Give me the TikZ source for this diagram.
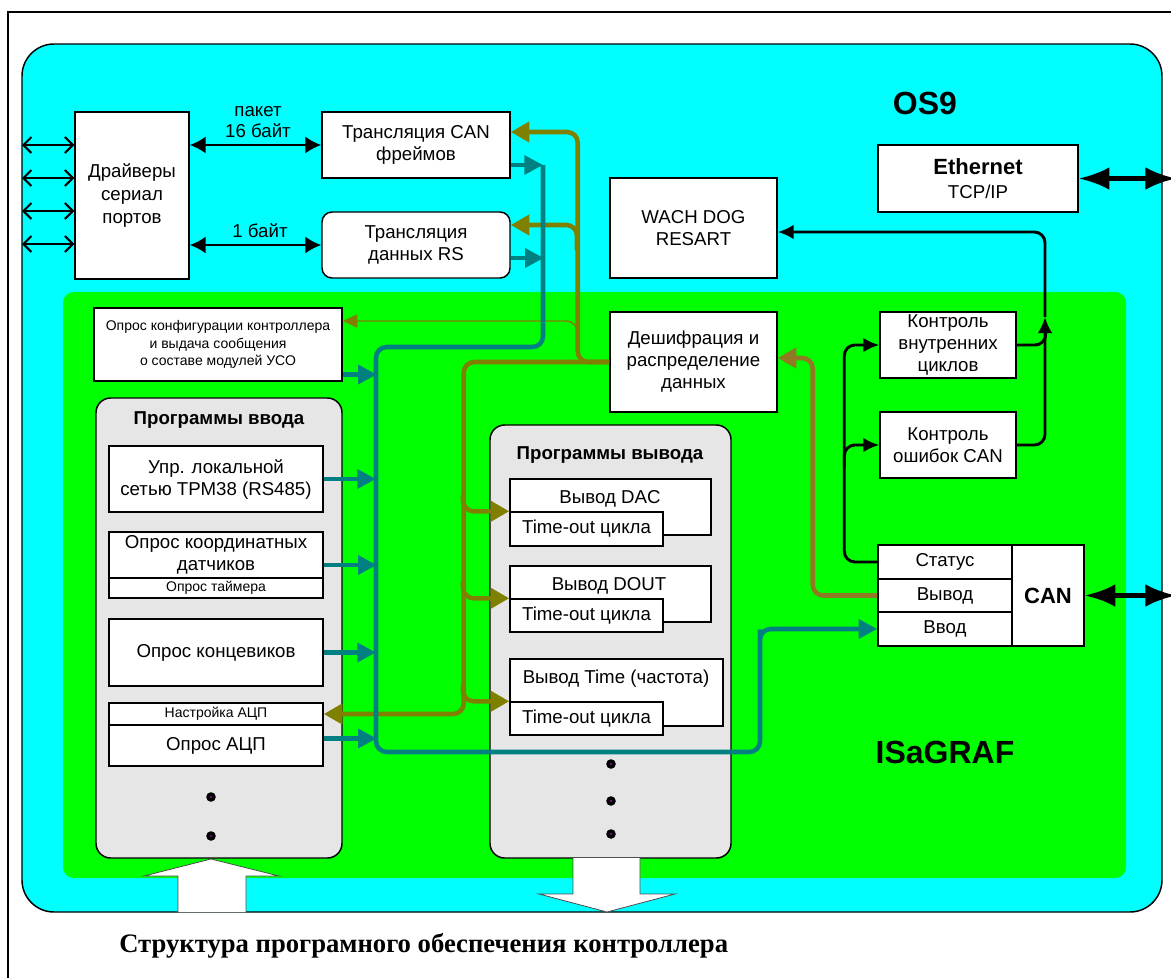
\documentclass[tikz,border=0pt]{standalone}
\usepackage{fontspec}
\setmainfont{Liberation Sans}
\newfontfamily\capfont{Liberation Serif}
\usetikzlibrary{arrows.meta,calc}
\definecolor{cyanc}{RGB}{0,255,255}
\definecolor{greenc}{RGB}{0,255,0}
\definecolor{grayc}{RGB}{230,230,230}
\definecolor{tealc}{RGB}{0,128,128}
\definecolor{olivec}{RGB}{128,128,0}
\definecolor{brownc}{RGB}{145,120,35}
\definecolor{dotc}{RGB}{255,0,255}
\tikzset{
  rb/.style args={#1/#2/#3/#4}{at={({(#1+#3)/2},{(#2+#4)/2})}, anchor=center,
    minimum width={(#3-#1)*0.75pt}, minimum height={(#4-#2)*0.75pt}},
  bx/.style={draw, fill=white, line width=1.1pt, inner sep=0pt, align=center,
    font=\fontsize{14}{16.5}\selectfont},
  sbx/.style={bx, font=\fontsize{10.5}{13}\selectfont},
  lbl/.style={inner sep=0pt, align=center, font=\fontsize{14}{16}\selectfont},
  ttl/.style={inner sep=0pt, font=\bfseries\fontsize{14}{16}\selectfont},
  big/.style={inner sep=0pt, font=\bfseries\fontsize{24}{26}\selectfont},
  cont/.style={draw, fill=grayc, line width=1.1pt, inner sep=0pt, rounded corners=11pt},
  tl/.style={draw=tealc, line width=3.4pt, rounded corners=8pt, -{Triangle[length=14pt,width=14pt]}},
  olv/.style={draw=olivec, line width=3.4pt, rounded corners=8pt, -{Triangle[length=14pt,width=15pt]}},
  olb/.style={olv, draw=brownc},
  olthin/.style={draw=olivec, line width=1.1pt, rounded corners=8pt, -{Triangle[length=11pt,width=10pt]}},
  bk/.style={draw=black, line width=2.2pt, rounded corners=8pt, -{Latex[length=12pt,width=11pt]}},
  bkn/.style={draw=black, line width=2.2pt, rounded corners=8pt},
  dbl/.style={draw=black, line width=1.9pt, {Latex[length=12pt,width=13pt]}-{Latex[length=12pt,width=13pt]}},
  lft/.style={draw=black, line width=1.5pt, {Straight Barb[length=6pt,width=12pt]}-{Straight Barb[length=6pt,width=12pt]}},
  fat/.style={draw=black, line width=3.2pt, {Latex[length=23pt,width=17pt]}-{Latex[length=23pt,width=17pt]}},
  bigarr/.style={draw=black!70, fill=white, line width=0.6pt},
}
\begin{document}
\begin{tikzpicture}[x=0.75pt,y=-0.75pt]
\useasboundingbox (0,0) rectangle (1171,978);
\fill[white] (0,0) rectangle (1171,978);
% frame
\draw[line width=2pt] (8,995) -- (8,12) -- (1195,12);
% OS9 area
\draw[fill=cyanc, line width=1.1pt, rounded corners=24pt] (22,44) rectangle (1162,912);
\fill[greenc, rounded corners=8pt] (63,292) rectangle (1126,878);
\node[big] (os9) at (925,103) {OS9};
\node[big] (isa) at (945,752) {ISaGRAF};

% top boxes
\node[bx, rb=75/112/189/279, font=\fontsize{14}{17}\selectfont] (drv) {Драйверы\\сериал\\портов};
\node[bx, rb=322/112/510/178] (tcan) {Трансляция CAN\\фреймов};
\node[bx, rounded corners=7.5pt, rb=322/212/510/278] (trs) {Трансляция\\данных RS};
\node[bx, rb=610/178/777/278] (wd) {WACH DOG\\RESART};
\node[bx, rb=878/145/1078/212, font=\fontsize{14}{18}\selectfont] (eth) {{\bfseries\fontsize{16.5}{18}\selectfont Ethernet}\\TCP/IP};
\node[lbl] (lpak) at (258,122) {пакет\\16 байт};
\node[lbl] (l1b) at (260,231) {1 байт};

% ISaGRAF boxes
\node[sbx, rb=94/308/342/381] (cfg) {Опрос конфигурации контроллера\\и выдача сообщения\\о составе модулей УСО};
\node[bx, rb=610/312/777/412] (des) {Дешифрация и\\распределение\\данных};
\node[bx, rb=880/312/1016/378] (kvc) {Контроль\\внутренних\\циклов};
\node[bx, rb=880/412/1016/478] (koc) {Контроль\\ошибок CAN};

% input programs
\node[cont, rb=96/398/342/858] (inp) {};
\node[ttl] (inpT) at (219,420) {Программы ввода};
\node[bx, rb=109/446/323/512] (in1) {Упр. локальной\\сетью ТРМ38 (RS485)};
\node[bx, rb=109/532/323/578] (in2) {Опрос координатных\\датчиков};
\node[sbx, rb=109/578/323/598] (in2b) {Опрос таймера};
\node[bx, rb=109/619/323/686] (in3) {Опрос концевиков};
\node[sbx, rb=109/703/323/725] (in4a) {Настройка АЦП};
\node[bx, rb=109/725/323/766] (in4b) {Опрос АЦП};
\foreach \yy in {797,836}{
  \fill (211,\yy) circle (3.6pt);
  \fill[dotc] (211,\yy) circle (0.6pt);
}

% output programs
\node[cont, rb=490/425/731/858] (outp) {};
\node[ttl] (outT) at (610,455) {Программы вывода};
\node[bx, rb=510/479/711/535] (o1) {};
\node[lbl] (o1l) at (610,499) {Вывод DAC};
\node[bx, rb=510/512/663/546] (o1t) {Time-out цикла};
\node[bx, rb=510/566/711/622] (o2) {};
\node[lbl] (o2l) at (609,586) {Вывод DOUT};
\node[bx, rb=510/599/663/632] (o2t) {Time-out цикла};
\node[bx, rb=510/659/723/726] (o3) {};
\node[lbl] (o3l) at (616,679) {Вывод Time (частота)};
\node[bx, rb=510/702/663/735] (o3t) {Time-out цикла};
\foreach \yy in {764,801,834}{
  \fill (611,\yy) circle (3.6pt);
  \fill[dotc] (611,\yy) circle (0.6pt);
}

% CAN block
\node[bx, rb=878/545/1012/579] (cst) {Статус};
\node[bx, rb=878/579/1012/612] (cvy) {Вывод};
\node[bx, rb=878/612/1012/646] (cvv) {Ввод};
\node[bx, rb=1012/545/1084/646, font=\bfseries\fontsize{16.5}{18}\selectfont] (ccan) {CAN};

% big white arrows
\draw[bigarr] (178,912) -- (178,876) -- (144,876) -- (211,859) -- (279,876) -- (246,876) -- (246,912);
\draw[bigarr] (573,858) -- (573,894) -- (539,894) -- (607,912) -- (675,894) -- (640,894) -- (640,858);

% coordinates
\coordinate (tB) at (376,0);
\coordinate (tTop) at (543,165);
\coordinate (eR) at (1176,0);
\coordinate (wdj) at (1045,317);
\coordinate (oA1) at (577,250);
\coordinate (oA2) at (577,340);
\coordinate (oB1) at (463,495);
\coordinate (oB2) at (463,582);
\coordinate (oB3) at (463,685);
\foreach \i/\yy in {1/145,2/178,3/211,4/244}{ \coordinate (p\i) at (22,\yy); }

% left serial port arrows
\foreach \i in {1,...,4}{ \draw[lft] (p\i) -- (p\i -| drv.west); }
% drivers <-> translation
\draw[dbl] (drv.east |- tcan.west) -- (tcan.west);
\draw[dbl] (drv.east |- trs.west) -- (trs.west);
% ethernet / CAN external
\draw[fat] (eth.east) -- (eth.east -| eR);
\draw[fat] (ccan.east) -- (ccan.east -| eR);

% olive connectors
\draw[olthin] (oA2) |- ($(cfg.east)+(0,-23.5)$);
\draw[olv] (des.west) -| ($(tcan.east)+(67,-13)$) -- ($(tcan.east)+(0,-13)$);
\draw[olv] (oA1) |- ($(trs.east)+(0,-20)$);
\draw[olv] (des.west) -| ($(in4a.east)+(140,0)$) -- (in4a.east);
\draw[olv] (oB1) |- (o1t.north west);
\draw[olv] (oB2) |- (o2t.north west);
\draw[olv] (oB3) |- (o3t.north west);
\draw[olb] (cvy.west) -| ($(des.east)+(35,-4)$) -- ($(des.east)+(0,-4)$);

% teal connectors
\draw[tl] ($(tcan.east)+(0,20)$) -- (tTop);
\draw[tl] ($(trs.east)+(0,13)$) -- ($(trs.east)+(33,13)$);
\draw[tl] (tTop) |- (376,347) -- (376,752) -| (760,640) |- (cvv.west);
\draw[tl] ($(cfg.east)+(0,30)$) -- ++(34,0);
\draw[tl] (in1.east) -- (in1.east -| tB);
\draw[tl] ($(in2.east)+(0,10)$) -- ++(53,0);
\draw[tl] (in3.east) -- (in3.east -| tB);
\draw[tl] ($(in4b.east)+(0,-7)$) -- ++(53,0);

% black control connectors
\draw[bk] (cst.west) -| ($(kvc.west)+(-35,0)$) -- (kvc.west);
\draw[bk] ($(koc.west)+(-35,22)$) |- (koc.west);
\draw[bkn] (kvc.east) -| ($(kvc.east)+(29,-22)$);
\draw[bk] (koc.east) -| (wdj);
\draw[bk] (wdj) |- ($(wd.east)+(0,4)$);

% caption
\node[anchor=west, inner sep=0pt, font=\capfont\bfseries\fontsize{20}{22}\selectfont] (cap) at (119,946) {Структура програмного обеспечения контроллера};
\end{tikzpicture}
\end{document}
